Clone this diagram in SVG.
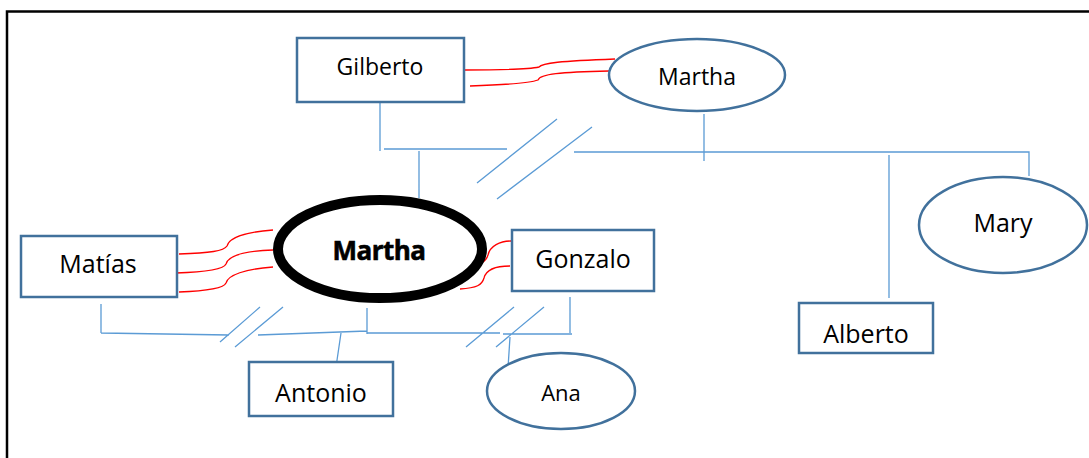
<svg xmlns="http://www.w3.org/2000/svg" width="1089" height="458" viewBox="0 0 1089 458">
<style>
.node{fill:#fff;stroke:#41719c;stroke-width:2.5}
.lbl{font-family:"Open Sans","Liberation Sans",sans-serif;fill:#000;text-anchor:middle}
.blue{stroke:#5b9bd5;stroke-width:1.3;fill:none}
.red{stroke:#ff0000;stroke-width:1.3;fill:none}
</style>
<rect width="1089" height="458" fill="#fff"/>
<path d="M7,458 V11.5 H1089" fill="none" stroke="#000" stroke-width="2.5"/>
<g id="connectors">
<path class="red" d="M465,70 C500,70 530,69 539,67 C542,63 560,61 615,59"/>
<path class="red" d="M470,86 C500,85 530,83 538,80 C540,74 560,72 609,71"/>
<path class="red" d="M179,254 C210,253 224,251 227,246 C229,238 245,232 273,230"/>
<path class="red" d="M176,273 C205,272 224,269 226,264 C228,256 245,251 273,250"/>
<path class="red" d="M179,292 C205,291 224,288 226,283 C228,275 245,269 273,267"/>
<path class="red" d="M466,266 C480,265 486,262 488,255 C490,246 500,241 511,241"/>
<path class="red" d="M460,289 C477,288 482,285 484,278 C486,270 495,266 510,266"/>
<path class="blue" d="M380,102 V151 M384,149 H507 M419,151 V198 M477,183 L557,119 M497,199 L592,127 M574,152 H1029 V176 M704,114 V161 M889,155 V298"/>
<path class="blue" d="M101,304 V333 M101,333 L229,335 M220,342 L260,307 M235,347 L283,307 M258,335 L367,331 M367,308 V334 M341,333 L336,367 M367,333 H500 M466,347 L514,307 M496,347 L544,307 M503,334 H572 M570,297 V333 M510,337 L508,368"/>
</g>
<g id="gilberto"><rect class="node" x="297" y="38" width="167" height="64"/><text class="lbl" x="380" y="75" font-size="23">Gilberto</text></g>
<g id="martha-top"><ellipse class="node" cx="697" cy="75" rx="88" ry="36"/><text class="lbl" x="697" y="85" font-size="23">Martha</text></g>
<g id="mary"><ellipse class="node" cx="1003" cy="225" rx="84" ry="48"/><text class="lbl" x="1003" y="232" font-size="25">Mary</text></g>
<g id="alberto"><rect class="node" x="799" y="303" width="134" height="50"/><text class="lbl" x="866" y="343" font-size="25">Alberto</text></g>
<g id="matias"><rect class="node" x="21" y="236" width="156" height="61"/><text class="lbl" x="98" y="273" font-size="25">Matías</text></g>
<g id="martha-main"><ellipse cx="380" cy="249" rx="102" ry="49" fill="#fff" stroke="#000" stroke-width="10"/><text class="lbl" x="379" y="260" font-size="26" font-weight="bold" stroke="#000" stroke-width="0.6" letter-spacing="-0.5">Martha</text></g>
<g id="gonzalo"><rect class="node" x="512" y="230" width="142" height="61"/><text class="lbl" x="583" y="268" font-size="25">Gonzalo</text></g>
<g id="antonio"><rect class="node" x="249" y="362" width="144" height="54"/><text class="lbl" x="321" y="402" font-size="25">Antonio</text></g>
<g id="ana"><ellipse class="node" cx="561" cy="391" rx="74" ry="38"/><text class="lbl" x="561" y="401" font-size="22">Ana</text></g>
</svg>
